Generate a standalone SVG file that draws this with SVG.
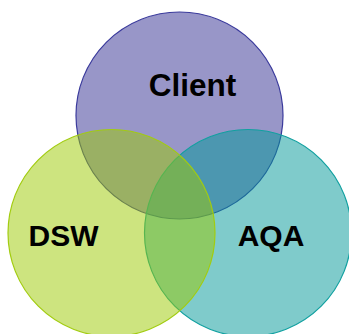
<svg xmlns="http://www.w3.org/2000/svg" width="349" height="334" viewBox="0 0 349 334">
  <style>
    .set { fill-opacity: 0.5; stroke-width: 1.2; }
    .label { font-family: "Liberation Sans", Arial, sans-serif; font-weight: bold; font-size: 30px; fill: #000; text-anchor: middle; }
  </style>
  <rect width="349" height="334" fill="#ffffff"/>
  <g id="client">
    <circle class="set" cx="179.5" cy="115.5" r="103.5" fill="#312d91" stroke="#3a3a9c"/>
  </g>
  <g id="aqa">
    <circle class="set" cx="248" cy="233" r="103.5" fill="#009797" stroke="#11a0a0"/>
  </g>
  <g id="dsw">
    <circle class="set" cx="111.5" cy="233" r="103.5" fill="#9bc900" stroke="#a2cc10"/>
  </g>
  <g id="labels">
    <text class="label" x="192.5" y="96" style="font-size:31.5px">Client</text>
    <text class="label" x="63.5" y="246">DSW</text>
    <text class="label" x="271" y="246">AQA</text>
  </g>
  <g id="connectors"/>
</svg>
